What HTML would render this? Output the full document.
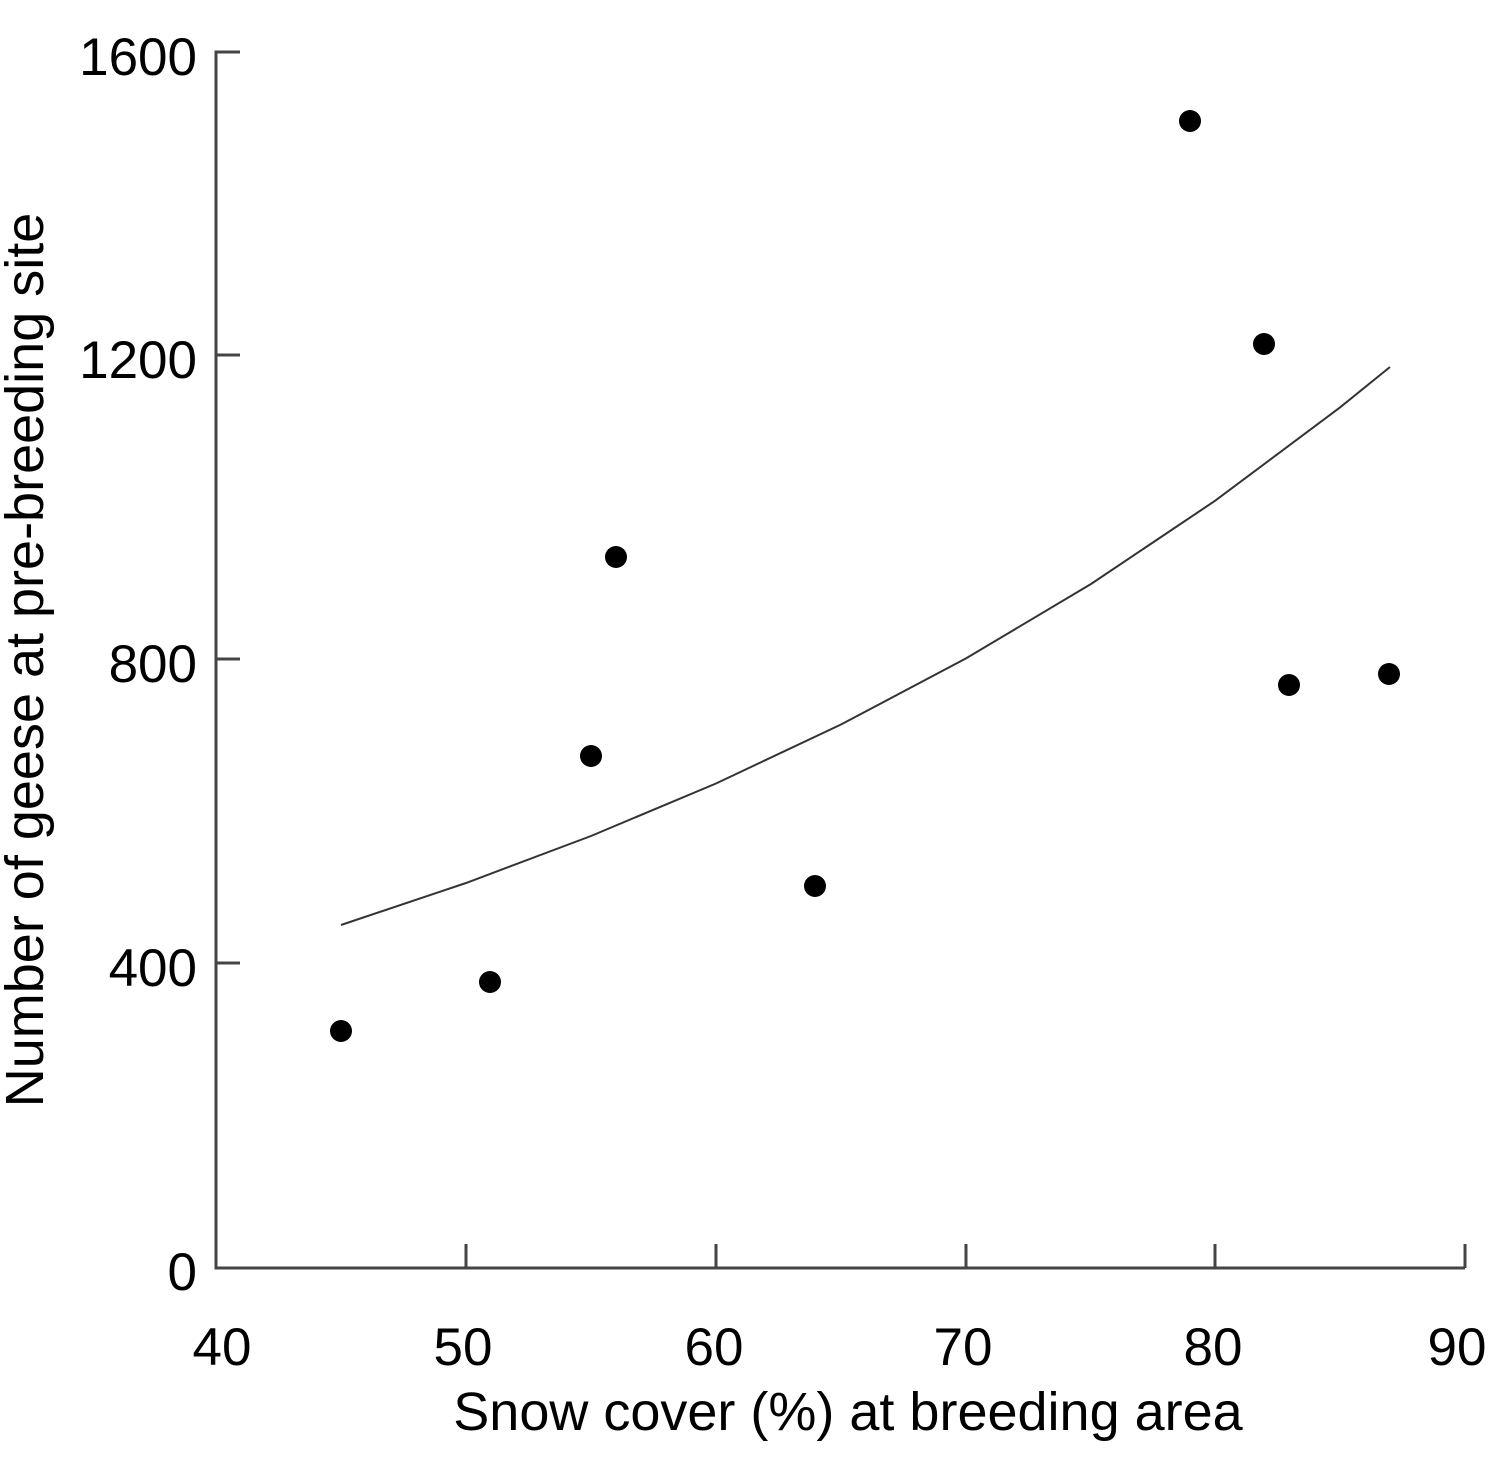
<!DOCTYPE html>
<html><head><style>body{margin:0;background:#fff}</style></head><body>
<svg width="1500" height="1477" xmlns="http://www.w3.org/2000/svg" font-family="Liberation Sans, sans-serif" fill="#000">
<g stroke="#444" stroke-width="3" fill="none">
<polyline points="240,52 216,52 216,1268 1465,1268"/>
<line x1="216" y1="355" x2="240" y2="355"/>
<line x1="216" y1="659" x2="240" y2="659"/>
<line x1="216" y1="963" x2="240" y2="963"/>
<line x1="466" y1="1268" x2="466" y2="1244"/>
<line x1="716" y1="1268" x2="716" y2="1244"/>
<line x1="966" y1="1268" x2="966" y2="1244"/>
<line x1="1215" y1="1268" x2="1215" y2="1244"/>
<line x1="1465" y1="1268" x2="1465" y2="1244"/>
</g>
<polyline fill="none" stroke="#333" stroke-width="2" points="341,925 466,883 591,836 716,783.5 841,724.5 966,658.4 1091,584 1215,500.8 1340,407.4 1390,367"/>
<g font-size="53" text-anchor="end">
<text x="197" y="75">1600</text>
<text x="197" y="378">1200</text>
<text x="197" y="682">800</text>
<text x="197" y="986">400</text>
<text x="197" y="1290">0</text>
</g>
<g font-size="53" text-anchor="middle">
<text x="222" y="1365">40</text>
<text x="463" y="1365">50</text>
<text x="714" y="1365">60</text>
<text x="963" y="1365">70</text>
<text x="1213" y="1365">80</text>
<text x="1457" y="1365">90</text>
</g>
<text x="848" y="1430" font-size="54" text-anchor="middle">Snow cover (%) at breeding area</text>
<text transform="translate(43,660) rotate(-90)" font-size="54" text-anchor="middle">Number of geese at pre-breeding site</text>
<g>
<circle cx="341" cy="1031" r="11"/>
<circle cx="490" cy="982" r="11"/>
<circle cx="591" cy="756" r="11"/>
<circle cx="616" cy="557" r="11"/>
<circle cx="815" cy="886" r="11"/>
<circle cx="1190" cy="121" r="11"/>
<circle cx="1264" cy="344" r="11"/>
<circle cx="1289" cy="685" r="11"/>
<circle cx="1389" cy="674" r="11"/>
</g>
</svg>
</body></html>
